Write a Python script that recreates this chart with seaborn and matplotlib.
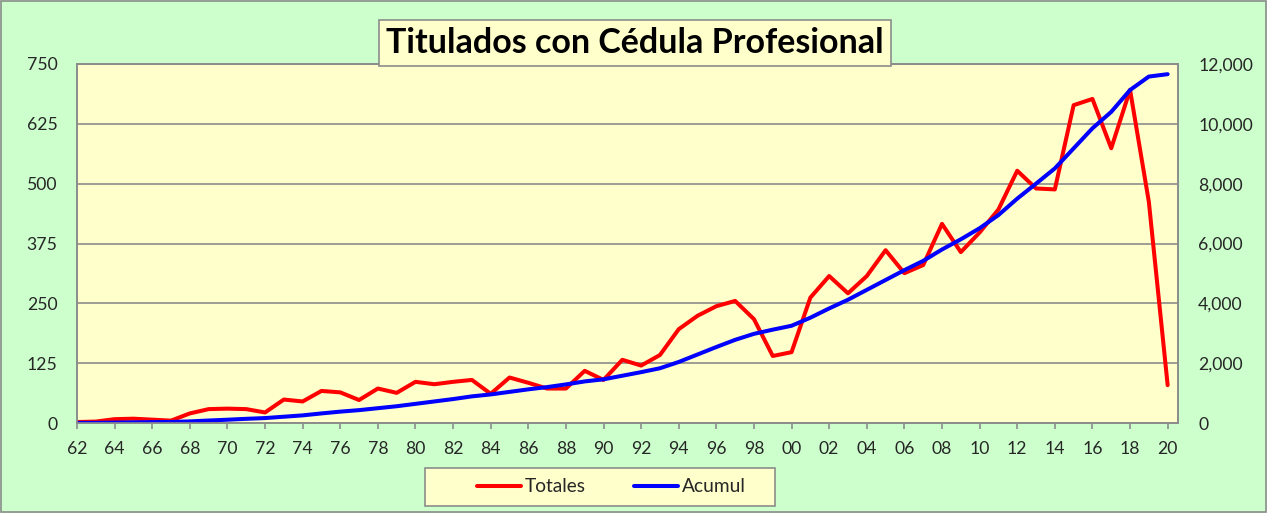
import matplotlib
matplotlib.use('Agg')
import matplotlib.pyplot as plt
import matplotlib.patches as mpatches
from matplotlib.ticker import FuncFormatter, MultipleLocator
import seaborn as sns
import pandas as pd

# --- data ---
years = list(range(1962, 2021))
totales = [2, 3, 8, 9, 7, 5, 20, 29, 30, 29, 22, 49, 45, 67, 64, 48, 72, 63, 86, 81,
           86, 90, 61, 95, 84, 72, 72, 109, 90, 132, 120, 142, 196, 224, 244, 255, 217,
           140, 148, 262, 307, 271, 307, 361, 313, 330, 416, 357, 398, 446, 527, 490,
           488, 664, 677, 574, 696, 462, 79]
acumul = [2, 5, 13, 22, 29, 34, 54, 83, 110, 140, 165, 210, 255, 320, 380, 430, 495,
          560, 640, 720, 800, 890, 955, 1040, 1125, 1200, 1290, 1390, 1460, 1580, 1700,
          1830, 2040, 2290, 2540, 2780, 2980, 3120, 3250, 3520, 3830, 4120, 4450, 4780,
          5110, 5420, 5800, 6140, 6510, 6950, 7500, 8000, 8510, 9180, 9850, 10400,
          11130, 11580, 11660]
title = "Titulados con Cédula Profesional"

df = pd.DataFrame({"Año": years, "Totales": totales, "Acumul": acumul})

sns.set_style("ticks")
plt.rcParams['font.family'] = ['Lato', 'DejaVu Sans']

bg_fig = "#CCFFCC"
bg_plot = "#FFFFCC"
grey = "#8C8C8C"
W, H = 1267, 513

fig = plt.figure(figsize=(W / 100, H / 100), dpi=100, facecolor=bg_fig)
ax = fig.add_axes([77 / W, 1 - 423 / H, (1178 - 77) / W, (423 - 64) / H])
ax.set_facecolor(bg_plot)

sns.lineplot(data=df, x="Año", y="Totales", ax=ax, color="#FF0000", linewidth=2.9,
             label="Totales", legend=False)
ax2 = ax.twinx()
sns.lineplot(data=df, x="Año", y="Acumul", ax=ax2, color="#0000FF", linewidth=2.9,
             label="Acumul", legend=False)

ax.set_xlim(1962, 2020.55)
ax.set_ylim(0, 750)
ax2.set_ylim(0, 12000)
ax.yaxis.set_major_locator(MultipleLocator(125))
ax2.yaxis.set_major_locator(MultipleLocator(2000))
ax.xaxis.set_major_locator(MultipleLocator(2))
ax.xaxis.set_major_formatter(FuncFormatter(lambda v, p: f"{int(v) % 100:02d}"))
ax2.yaxis.set_major_formatter(FuncFormatter(lambda v, p: f"{int(v):,}"))

ax.grid(axis="y", color=grey, linewidth=1.2)
ax.set_axisbelow(True)
for a in (ax, ax2):
    for s in a.spines.values():
        s.set_color(grey)
        s.set_linewidth(1.2)
    a.set_xlabel("")
    a.set_ylabel("")
ax.tick_params(axis="x", length=4, width=1.2, color=grey, labelsize=12.7, pad=9)
ax.tick_params(axis="y", length=0, labelsize=12.7, pad=14)
ax2.tick_params(axis="y", length=0, labelsize=12.7, pad=14.5)

# title box
fig.text(635 / W, 1 - 43 / H, title, ha="center", va="center", fontsize=24.5,
         fontweight="bold", color="black",
         bbox=dict(boxstyle="square,pad=0.22", facecolor=bg_plot, edgecolor=grey,
                   linewidth=1.2))

# legend box + legend
fig.patches.append(mpatches.Rectangle((425 / W, 1 - 506 / H), 350 / W, 38 / H,
                                      transform=fig.transFigure, facecolor=bg_plot,
                                      edgecolor=grey, linewidth=1.2))
h1, l1 = ax.get_legend_handles_labels()
h2, l2 = ax2.get_legend_handles_labels()
leg = fig.legend(h1 + h2, l1 + l2, loc="center", bbox_to_anchor=(611 / W, 1 - 487 / H),
                 ncol=2, fontsize=13.8, frameon=False, handlelength=2.3,
                 columnspacing=2.5, handletextpad=0.2)

# outer border
fig.patches.append(mpatches.Rectangle((0.001, 0.002), 0.998, 0.996, transform=fig.transFigure,
                                      fill=False, edgecolor=grey, linewidth=1.2))

fig.savefig("out.png", dpi=100, facecolor=bg_fig)
